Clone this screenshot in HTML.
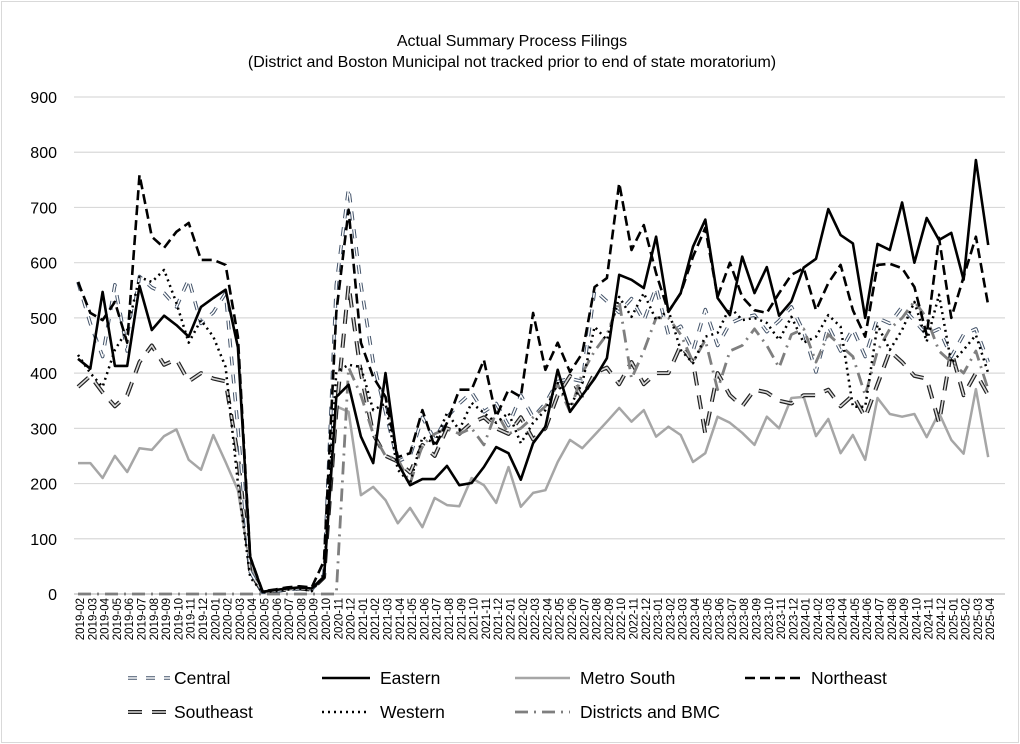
<!DOCTYPE html>
<html><head><meta charset="utf-8">
<style>
html,body{margin:0;padding:0;background:#fff;}
body{width:1020px;height:744px;overflow:hidden;font-family:"Liberation Sans",sans-serif;}
#frame{position:absolute;left:1px;top:1px;width:1016px;height:740px;border:1px solid #d9d9d9;}
</style></head>
<body>
<div id="frame"></div>
<svg id="chart" width="1020" height="744" style="position:absolute;left:0;top:0">
<text x="512" y="46" text-anchor="middle" font-size="16" font-family="Liberation Sans, sans-serif">Actual Summary Process Filings</text>
<text x="512" y="67" text-anchor="middle" font-size="16" font-family="Liberation Sans, sans-serif">(District and Boston Municipal not tracked prior to end of state moratorium)</text>
<g id="grid"></g><g id="series"></g><g id="xlabels"></g><g id="legend"></g>
</svg>
<script>
const categories = [];
for (let y = 2019; y <= 2025; y++) for (let m = 1; m <= 12; m++) {
  if ((y === 2019 && m < 2) || (y === 2025 && m > 4)) continue;
  categories.push(y + "-" + String(m).padStart(2, "0"));
}
const yTicks = [0,100,200,300,400,500,600,700,800,900];
const central = [565,490,430,560,440,575,555,545,520,570,490,510,545,300,40,3,5,8,10,8,35,560,735,560,420,330,240,250,320,280,320,345,365,330,345,305,360,320,345,385,390,385,550,530,510,535,495,555,470,485,440,515,450,490,500,505,475,495,520,475,402,485,440,480,430,500,490,520,495,470,480,430,470,480,420];
const eastern = [426,408,547,413,413,558,478,504,487,466,520,536,551,447,67,4,7,10,12,10,30,357,379,285,237,400,237,197,208,208,232,197,201,230,266,255,207,273,303,406,330,360,390,427,578,569,554,647,511,545,629,678,536,505,611,545,592,504,530,591,607,697,650,635,500,634,623,709,600,681,641,654,569,786,632];
const metroSouth = [237,237,210,250,221,264,261,286,298,243,225,288,239,188,50,3,5,8,10,8,30,340,330,179,194,170,128,156,121,174,161,159,210,197,165,230,158,183,188,239,279,264,288,312,337,312,333,285,303,288,239,255,321,310,292,270,321,300,355,357,286,317,255,288,243,355,326,321,326,284,328,279,254,371,248];
const northeast = [565,509,496,529,455,759,647,627,656,672,605,605,596,466,67,5,8,12,14,12,60,510,696,455,393,357,248,255,333,266,310,370,370,424,321,370,357,509,406,455,402,436,556,572,744,623,668,581,511,545,611,663,538,600,538,514,509,545,578,590,514,563,596,514,466,596,598,590,556,469,645,500,574,647,523];
const southeast = [375,395,365,340,360,420,450,415,425,385,400,390,385,250,40,3,5,8,10,8,30,330,560,400,290,250,240,220,270,250,300,290,310,320,300,290,320,280,300,360,395,355,400,410,380,420,380,400,400,450,420,290,400,360,340,370,365,350,345,360,360,370,340,360,320,380,440,420,395,390,310,440,360,400,360];
const western = [433,400,375,442,478,574,565,587,527,455,496,466,411,201,30,3,5,8,10,5,35,402,415,411,333,345,225,201,284,273,328,297,346,328,310,328,273,310,333,382,339,382,484,460,538,502,545,496,514,442,418,466,473,520,496,500,491,460,502,455,466,505,484,339,339,487,442,478,529,457,542,418,442,469,400];
const districts = [0,0,0,0,0,0,0,0,0,0,0,0,0,0,0,0,0,0,0,0,0,0,410,360,290,250,245,200,270,290,300,290,300,270,330,290,300,320,340,380,330,400,440,470,530,390,440,500,500,470,420,460,370,440,450,480,450,410,470,480,420,470,450,430,360,440,480,500,530,500,440,420,400,440,370];

const NS = "http://www.w3.org/2000/svg";
const X0 = 78, DX = 12.3, Y0 = 594, YS = 0.5522;
function xPos(i){ return X0 + DX * i; }
function yPos(v){ return Y0 - v * YS; }
function mk(tag, attrs, parent){ const e = document.createElementNS(NS, tag); for (const k in attrs) e.setAttribute(k, attrs[k]); parent.appendChild(e); return e; }

const grid = document.getElementById("grid");
yTicks.forEach(t => {
  const l = mk("line", {x1:74, x2:1005, y1:yPos(t), y2:yPos(t), stroke: t===0 ? "#bfbfbf" : "#d9d9d9", "stroke-width":1.2}, grid);
  
  
  const tx = mk("text", {x:57, y:yPos(t)+6, "text-anchor":"end", "font-size":16}, grid);
  tx.textContent = t;
  
  
});

const xl = document.getElementById("xlabels");
categories.forEach((c, i) => {
  const x = xPos(i) + 6;
  const t = mk("text", {x:0, y:0, transform:`translate(${x},598) rotate(-90)`, "text-anchor":"end", "font-size":11.5}, xl);
  t.textContent = c;
  
  
});

const styles = {
  metroSouth: [{stroke:"#a6a6a6", w:2.5, dash:""}],
  southeast: [{stroke:"#222", w:4, dash:"14 10"}, {stroke:"#d9d9d9", w:1.6, dash:"14 10"}],
  central: [{stroke:"#44546a", w:3.5, dash:"9 9"}, {stroke:"#fff", w:1.5, dash:"9 9"}],
  districts: [{stroke:"#7f7f7f", w:2.8, dash:"13 6 2 6"}],
  western: [{stroke:"#000", w:2.5, dash:"2 4"}],
  northeast: [{stroke:"#000", w:2.6, dash:"10 5"}],
  eastern: [{stroke:"#000", w:2.6, dash:""}]
};
const seriesData = {metroSouth, southeast, central, districts, western, northeast, eastern};
const names = {metroSouth:"metro-south-line", southeast:"southeast-line", central:"central-line", districts:"districts-bmc-line", western:"western-line", northeast:"northeast-line", eastern:"eastern-line"};
const sg = document.getElementById("series");
for (const k in seriesData) {
  const d = seriesData[k].map((v, i) => (i ? "L" : "M") + xPos(i).toFixed(1) + "," + yPos(v).toFixed(1)).join(" ");
  styles[k].forEach(s => {
    const p = mk("path", {d, fill:"none", stroke:s.stroke, "stroke-width":s.w, "stroke-dasharray":s.dash, "stroke-linejoin":"round"}, sg);
    
    
  });
}

const lg = document.getElementById("legend");
const legendItems = [
  {k:"central", label:"Central", x:128, y:678, len:42, gap:4},
  {k:"eastern", label:"Eastern", x:322, y:678, len:48, gap:10},
  {k:"metroSouth", label:"Metro South", x:515, y:678, len:55, gap:10},
  {k:"northeast", label:"Northeast", x:745, y:678, len:60, gap:6},
  {k:"southeast", label:"Southeast", x:128, y:712, len:42, gap:4},
  {k:"western", label:"Western", x:322, y:712, len:48, gap:10},
  {k:"districts", label:"Districts and BMC", x:515, y:712, len:55, gap:10}
];
legendItems.forEach(it => {
  const g = mk("g", {}, lg);
  
  
  styles[it.k].forEach(s => {
    mk("line", {x1:it.x, x2:it.x+it.len, y1:it.y, y2:it.y, stroke:s.stroke, "stroke-width":s.w, "stroke-dasharray":s.dash}, g);
  });
  const t = mk("text", {x:it.x+it.len+it.gap, y:it.y+6, "font-size":17.5}, g);
  t.textContent = it.label;
});
</script>
</body></html>
